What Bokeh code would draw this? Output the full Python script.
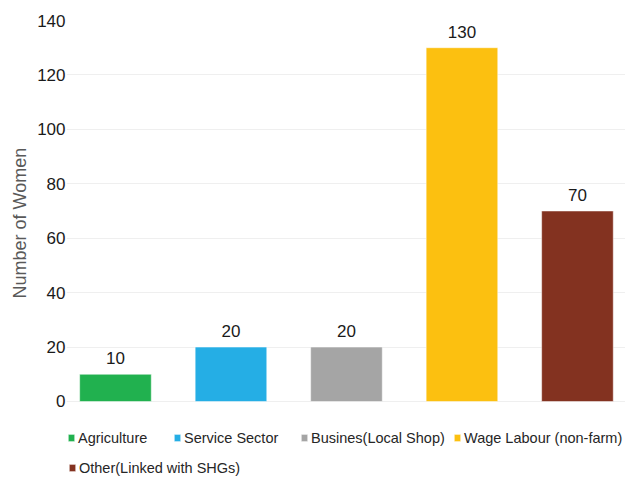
from bokeh.plotting import figure
from bokeh.models import ColumnDataSource, Range1d, Legend, LegendItem, FixedTicker, Title
from bokeh.core.properties import value
from bokeh.embed import file_html
from bokeh.resources import INLINE

categories = ["Agriculture", "Service Sector", "Busines(Local Shop)", "Wage Labour (non-farm)", "Other(Linked with SHGs)"]
counts = [10, 20, 20, 130, 70]
colors = ["#21B14F", "#25AEE5", "#A5A5A5", "#FCC010", "#833220"]
y_ticks = [0, 20, 40, 60, 80, 100, 120, 140]

FONT = "Liberation Sans"

src = ColumnDataSource(dict(x=list(range(len(categories))), top=counts, color=colors,
                            label=[str(v) for v in counts], cat=categories))

# frame spans x 66..625, y 20..477; value 0 sits at y=401
p = figure(width=625, height=477, output_backend="svg", toolbar_location=None,
           x_range=Range1d(-0.424, 4.416), y_range=Range1d(-27.93, 140),
           x_axis_location=None,
           min_border_left=66, min_border_right=0, min_border_top=20, min_border_bottom=0)
p.outline_line_color = None
p.background_fill_color = "white"
p.border_fill_color = "white"

r = p.vbar(x="x", top="top", width=0.62, bottom=0, fill_color="color", line_color="white",
           line_width=0.5, source=src)

p.text(x="x", y="top", text="label", source=src, text_align="center", text_baseline="middle",
       y_offset=-16, text_font=value(FONT), text_font_size="17px", text_color="#1a1a1a")

p.xgrid.visible = False
p.ygrid.grid_line_color = "#efefef"
p.ygrid.grid_line_width = 1
p.yaxis.ticker = FixedTicker(ticks=y_ticks)
p.yaxis.axis_line_color = None
p.yaxis.major_tick_line_color = None
p.yaxis.major_tick_out = 0
p.yaxis.major_tick_in = 0
p.yaxis.minor_tick_line_color = None
p.yaxis.major_label_standoff = 1
p.yaxis.major_label_text_font = FONT
p.yaxis.major_label_text_font_size = "17px"
p.yaxis.major_label_text_color = "#1a1a1a"

ylab = Title(text="Number of Women", align="left", offset=179, text_font=FONT,
             text_font_size="18px", text_font_style="normal", text_color="#595959")
p.add_layout(ylab, "left")

# legend positions in screen px relative to frame bottom-left
leg_pos = [(1, 31), (107, 31), (234, 31), (387, 31), (2, 1)]
for i, cat in enumerate(categories):
    leg = Legend(items=[LegendItem(label=cat, renderers=[r], index=i)],
                 location=leg_pos[i], orientation="horizontal",
                 padding=0, margin=0, spacing=0, border_line_color=None,
                 background_fill_alpha=0, glyph_width=8, glyph_height=9,
                 label_standoff=3, label_text_font=FONT, label_text_font_size="14.5px",
                 label_text_color="#262626", label_height=17)
    p.add_layout(leg, "center")

open("out.html", "w").write(file_html(p, INLINE))
